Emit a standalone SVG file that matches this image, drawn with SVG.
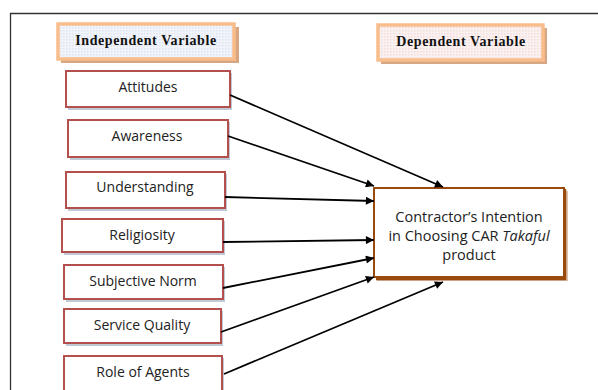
<svg xmlns="http://www.w3.org/2000/svg" width="598" height="390" viewBox="0 0 598 390">
<defs>
<pattern id="pBlue" width="3" height="3" patternUnits="userSpaceOnUse">
<rect width="3" height="3" fill="#f1f4fa"/>
<rect width="1.5" height="1.5" fill="#dde4f0"/>
</pattern>
<pattern id="pPink" width="3" height="3" patternUnits="userSpaceOnUse">
<rect width="3" height="3" fill="#fbf1f1"/>
<rect width="1.5" height="1.5" fill="#f2dcdc"/>
</pattern>
<marker id="arr" viewBox="0 0 10 10" refX="10" refY="5" markerWidth="5" markerHeight="4.5" orient="auto" markerUnits="strokeWidth">
<path d="M0,0 L10,5 L0,10 z" fill="#000"/>
</marker>
</defs>
<style>
.hdrShadow{fill:#d7a683;}
.hdr{stroke:#f9bd8c;stroke-width:3.5;}
.hdrTxt{font-family:"Liberation Serif",serif;font-weight:bold;font-size:14px;letter-spacing:0.6px;fill:#111;text-anchor:middle;}
.nShadow{fill:#bfcad6;}
.n{fill:#fff;stroke:#b34f4d;stroke-width:2;}
.nTxt{font-family:"Open Sans",sans-serif;font-size:14px;fill:#222;text-anchor:middle;}
.t{fill:#fff;stroke:#9a4a0c;stroke-width:2;}
.tTxt{font-family:"Open Sans",sans-serif;font-size:14.5px;fill:#222;text-anchor:middle;}
.c{fill:none;stroke:#000;stroke-width:1.8;marker-end:url(#arr);}
</style>
<rect width="598" height="390" fill="#fff"/>
<path d="M10.5,390 V13.5 H598" fill="none" stroke="#333" stroke-width="1.3"/>

<g id="hdr-independent">
<rect class="hdrShadow" x="61" y="27" width="178" height="36"/>
<rect class="hdr" x="58" y="24" width="176" height="35" fill="url(#pBlue)"/>
<text class="hdrTxt" x="146" y="45">Independent Variable</text>
</g>
<g id="hdr-dependent">
<rect class="hdrShadow" x="381" y="28" width="166" height="36"/>
<rect class="hdr" x="378" y="25" width="165" height="35" fill="url(#pPink)"/>
<text class="hdrTxt" x="461" y="46">Dependent Variable</text>
</g>

<g id="n-attitudes">
<rect class="nShadow" x="68" y="73" width="164" height="37"/>
<rect class="n" x="66" y="71" width="164" height="36"/>
<text class="nTxt" x="148" y="92">Attitudes</text>
</g>
<g id="n-awareness">
<rect class="nShadow" x="70" y="122" width="160" height="38"/>
<rect class="n" x="68" y="120" width="160" height="37"/>
<text class="nTxt" x="147" y="141">Awareness</text>
</g>
<g id="n-understanding">
<rect class="nShadow" x="68" y="174" width="159" height="37"/>
<rect class="n" x="66" y="172" width="159" height="36"/>
<text class="nTxt" x="145" y="192">Understanding</text>
</g>
<g id="n-religiosity">
<rect class="nShadow" x="64" y="221" width="161" height="34"/>
<rect class="n" x="62" y="219" width="161" height="33"/>
<text class="nTxt" x="142" y="240">Religiosity</text>
</g>
<g id="n-subjective">
<rect class="nShadow" x="66" y="267" width="159" height="35"/>
<rect class="n" x="64" y="265" width="159" height="34"/>
<text class="nTxt" x="143" y="286">Subjective Norm</text>
</g>
<g id="n-service">
<rect class="nShadow" x="66" y="311" width="157" height="35"/>
<rect class="n" x="64" y="309" width="157" height="34"/>
<text class="nTxt" x="142" y="330">Service Quality</text>
</g>
<g id="n-agents">
<rect class="nShadow" x="66" y="358" width="158" height="40"/>
<rect class="n" x="64" y="356" width="158" height="40"/>
<text class="nTxt" x="143" y="377">Role of Agents</text>
</g>

<g id="n-target">
<rect x="377" y="191" width="191" height="90" fill="#c79a7a" opacity="0.6"/>
<rect class="t" x="374" y="188" width="190" height="89"/>
<path d="M565,189 V279 H376" fill="none" stroke="#9a4a0c" stroke-width="2.5"/>
<text class="tTxt" x="469" y="222">Contractor’s Intention</text>
<text class="tTxt" x="469" y="241">in Choosing CAR <tspan font-style="italic">Takaful</tspan></text>
<text class="tTxt" x="469" y="260">product</text>
</g>

<g id="connectors">
<line class="c" x1="230" y1="95" x2="443" y2="187"/>
<line class="c" x1="228" y1="136" x2="374" y2="186"/>
<line class="c" x1="225" y1="197" x2="374" y2="201"/>
<line class="c" x1="223" y1="242" x2="374" y2="240"/>
<line class="c" x1="223" y1="288" x2="374" y2="258"/>
<line class="c" x1="221" y1="332" x2="374" y2="277"/>
<line class="c" x1="224" y1="374" x2="443" y2="282"/>
</g>
</svg>
